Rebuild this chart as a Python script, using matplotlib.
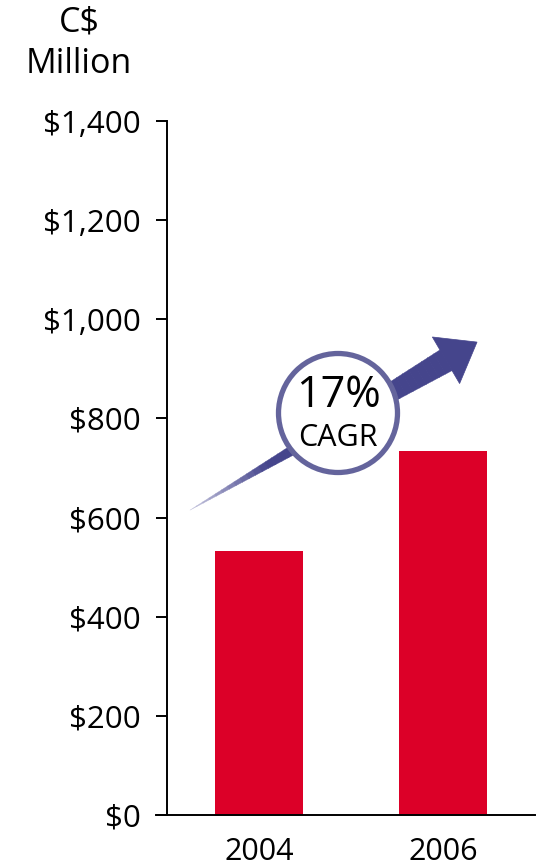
import numpy as np
import matplotlib
matplotlib.use("Agg")
import matplotlib.pyplot as plt
from matplotlib.collections import PolyCollection
from matplotlib.patches import Circle, Polygon
from matplotlib.transforms import IdentityTransform
from matplotlib.colors import to_rgb

# data
years = ["2004", "2006"]
revenue = [533, 734]
y_ticks = [0, 200, 400, 600, 800, 1000, 1200, 1400]
cagr_text = "17%"
cagr_label = "CAGR"
unit_label = "C$\nMillion"

BAR_RED = "#dc0028"
ARROW_DARK = "#45458c"
RING = "#64649c"

plt.rcParams["font.family"] = ["Open Sans", "DejaVu Sans"]

W, H = 539, 867
fig = plt.figure(figsize=(W / 100, H / 100), dpi=100)
# axes box in pixels: left 167, right 535, bottom 815, top 121
ax = fig.add_axes([167 / W, 1 - 815 / H, (535 - 167) / W, (815 - 121) / H])

x = np.arange(len(years))
ax.bar(x, revenue, width=0.48, color=BAR_RED, zorder=2)

ax.set_xlim(-0.5, 1.5)
ax.set_ylim(0, 1400)
ax.set_yticks(y_ticks)
ax.set_yticklabels([f"${v:,}" for v in y_ticks], fontsize=22.5)
ax.set_xticks(x)
ax.set_xticklabels(years, fontsize=22)
ax.tick_params(axis="y", direction="out", length=8, width=1.4, pad=11, colors="black")
ax.tick_params(axis="x", length=0, pad=16)
for s in ["top", "right"]:
    ax.spines[s].set_visible(False)
ax.spines["left"].set_linewidth(1.4)
ax.spines["bottom"].set_linewidth(1.4)
ax.spines["bottom"].set_bounds(-0.56, 1.5)
ax.spines["bottom"].set_clip_on(False)

fig.text(79 / W, 1 - 22 / H, unit_label.split("\n")[0], ha="center", va="center",
         fontsize=24.5)
fig.text(79 / W, 1 - 64 / H, unit_label.split("\n")[1], ha="center", va="center",
         fontsize=24.5)

# growth arrow, built in pixel space from data-space end points
fig.canvas.draw()
tail = ax.transData.transform((-0.375, 615))
tip = ax.transData.transform((1.185, 954))
d = tip - tail
L = np.hypot(*d)
u = d / L
n = np.array([-u[1], u[0]])
head_len, head_w, shaft_w = 36, 54, 24
base = tip - u * head_len

# shaft as tapered slices with a fade towards the tail
n_seg = 40
light = np.array(to_rgb("#c8c8e0"))
dark = np.array(to_rgb(ARROW_DARK))
polys, cols = [], []
for i in range(n_seg):
    t0, t1 = i / n_seg, (i + 1) / n_seg
    p0 = tail + (base - tail) * t0
    p1 = tail + (base - tail) * t1 + u * 0.5
    w0, w1 = shaft_w / 2 * t0, shaft_w / 2 * t1
    polys.append([p0 + n * w0, p1 + n * w1, p1 - n * w1, p0 - n * w0])
    f = min(1.0, (t0 + t1) / 2 / 0.3)
    cols.append(light + (dark - light) * f)
shaft = PolyCollection(polys, facecolors=cols, edgecolors=cols, linewidths=0.3,
                       transform=IdentityTransform(), zorder=3)
fig.add_artist(shaft)
head = Polygon([tip, base + n * head_w / 2, base - n * head_w / 2], closed=True,
               facecolor=ARROW_DARK, edgecolor=ARROW_DARK, linewidth=0.5,
               transform=IdentityTransform(), zorder=3)
fig.add_artist(head)

# CAGR badge
cx, cy = 338, H - 413
badge = Circle((cx, cy), 59.5, facecolor="white", edgecolor=RING, linewidth=3.8,
               transform=IdentityTransform(), zorder=4)
fig.add_artist(badge)
fig.text(cx / W, (H - 396) / H, cagr_text, ha="center", va="center",
         fontsize=31, zorder=5)
fig.text(cx / W, (H - 438) / H, cagr_label, ha="center", va="center",
         fontsize=22, zorder=5)

fig.savefig("out.png", dpi=100)
plt.close(fig)
